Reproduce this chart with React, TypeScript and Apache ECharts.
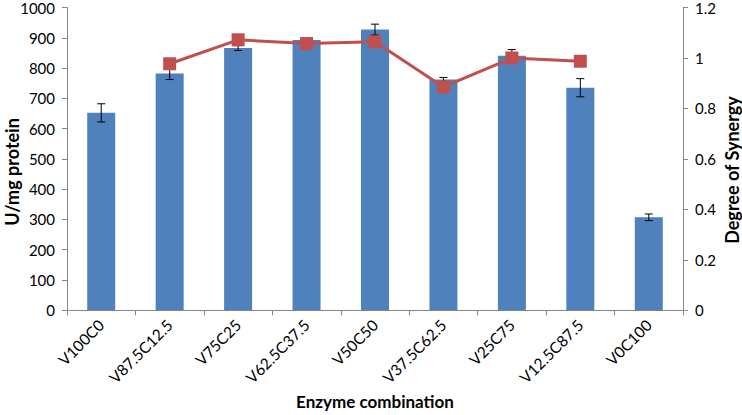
import React, { useEffect, useRef } from "react";
import * as echarts from "echarts";

const categories = [
  "V100C0",
  "V87.5C12.5",
  "V75C25",
  "V62.5C37.5",
  "V50C50",
  "V37.5C62.5",
  "V25C75",
  "V12.5C87.5",
  "V0C100",
];
const activity = [652, 782, 866, 893, 927, 762, 841, 735, 307];
const activityErr = [30, 20, 8, 6, 18, 7, 20, 30, 11];
const synergy: (number | null)[] = [null, 0.977, 1.072, 1.057, 1.064, 0.885, 1.0, 0.987, null];

const leftTicks = { min: 0, max: 1000, interval: 100 };
const rightTicks = { min: 0, max: 1.2, interval: 0.2 };

const FONT = "Lato, 'Open Sans', sans-serif";

export default function App() {
  const ref = useRef<HTMLDivElement>(null);
  useEffect(() => {
    document.body.style.margin = "0";
    if (!ref.current) return;
    const chart = echarts.init(ref.current, undefined, { renderer: "svg" });
    const errData = activity.map((v, i) => [i, v - activityErr[i], v + activityErr[i]]);
    const titleStyle = (text: string) => ({
      text,
      fontFamily: FONT,
      fontSize: 18,
      fontWeight: "bold",
      fill: "#000",
      textAlign: "center",
      textVerticalAlign: "middle",
    });
    chart.setOption({
      animation: false,
      textStyle: { fontFamily: FONT },
      grid: { left: 67, right: 59, top: 6.5, bottom: 95.5, containLabel: false },
      graphic: [
        { type: "text", x: 12, y: 172, rotation: Math.PI / 2, style: titleStyle("U/mg protein") },
        { type: "text", x: 732, y: 170, rotation: Math.PI / 2, style: titleStyle("Degree of Synergy") },
      ],
      xAxis: {
        type: "category",
        data: categories,
        name: "Enzyme combination",
        nameLocation: "middle",
        nameGap: 80,
        nameTextStyle: { fontSize: 17, fontWeight: "bold", color: "#000", fontFamily: FONT },
        axisLine: { lineStyle: { color: "#868686", width: 1 } },
        axisTick: { show: true, alignWithLabel: false, length: 5, lineStyle: { color: "#868686" } },
        axisLabel: { rotate: 45, fontSize: 15.5, color: "#000", margin: 12, fontFamily: FONT, interval: 0 },
      },
      yAxis: [
        {
          type: "value",
          ...leftTicks,
          axisLine: { show: true, lineStyle: { color: "#868686" } },
          axisTick: { show: true, length: 5, lineStyle: { color: "#868686" } },
          axisLabel: { fontSize: 15, color: "#000", margin: 12, fontFamily: FONT, formatter: (v: number) => String(v) },
          splitLine: { show: false },
        },
        {
          type: "value",
          ...rightTicks,
          position: "right",
          axisLine: { show: true, lineStyle: { color: "#868686" } },
          axisTick: { show: true, length: 5, lineStyle: { color: "#868686" } },
          axisLabel: {
            fontSize: 15,
            color: "#000",
            margin: 12,
            fontFamily: FONT,
            formatter: (v: number) => String(Math.round(v * 10) / 10),
          },
          splitLine: { show: false },
        },
      ],
      series: [
        {
          type: "bar",
          data: activity,
          yAxisIndex: 0,
          barWidth: 28,
          itemStyle: { color: "#4F81BD" },
          z: 1,
        },
        {
          type: "custom",
          yAxisIndex: 0,
          data: errData,
          z: 3,
          renderItem: (params: any, api: any) => {
            const idx = api.value(0);
            const lo = api.coord([idx, api.value(1)]);
            const hi = api.coord([idx, api.value(2)]);
            const cap = 4;
            const style = { stroke: "#000", lineWidth: 1 };
            return {
              type: "group",
              children: [
                { type: "line", shape: { x1: hi[0], y1: hi[1], x2: lo[0], y2: lo[1] }, style },
                { type: "line", shape: { x1: hi[0] - cap, y1: hi[1], x2: hi[0] + cap, y2: hi[1] }, style },
                { type: "line", shape: { x1: lo[0] - cap, y1: lo[1], x2: lo[0] + cap, y2: lo[1] }, style },
              ],
            };
          },
        },
        {
          type: "line",
          data: synergy,
          yAxisIndex: 1,
          symbol: "rect",
          symbolSize: 13,
          connectNulls: false,
          lineStyle: { color: "#C0504D", width: 3 },
          itemStyle: { color: "#C0504D" },
          z: 4,
        },
      ],
    });
    return () => chart.dispose();
  }, []);
  return <div ref={ref} style={{ width: 742, height: 415 }} />;
}
